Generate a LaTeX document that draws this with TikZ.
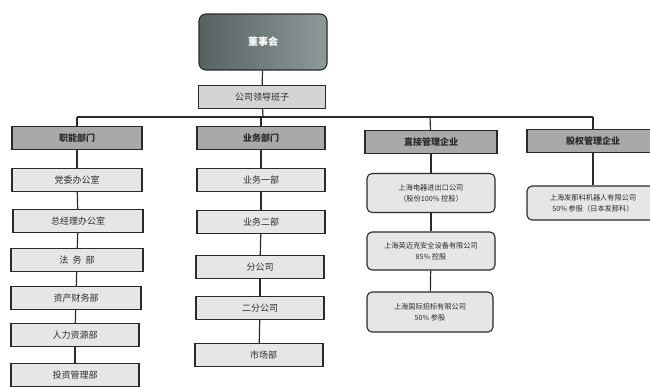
\documentclass[tikz,border=0pt]{standalone}
\usepackage{fontspec}
\newfontfamily\cjk{Noto Sans CJK SC}
\definecolor{hdr}{HTML}{A9A9A9}
\definecolor{kid}{HTML}{E6E6E6}
\definecolor{topA}{HTML}{566262}
\definecolor{topB}{HTML}{8E9A9A}
\definecolor{ln}{HTML}{2A2A2A}
\begin{document}
\begin{tikzpicture}[x=1pt,y=-1pt,
  every node/.style={font=\cjk\fontsize{9}{10}\selectfont, text=ln, inner sep=1pt, align=center},
  hbox/.style={draw=ln, line width=1.1pt, fill=hdr, minimum height=23pt, font=\cjk\bfseries\fontsize{9}{10}\selectfont},
  kbox/.style={draw=ln, line width=1.1pt, fill=kid, minimum height=23pt},
  rbox/.style={draw=ln, line width=1.1pt, fill=kid, rounded corners=5pt, font=\cjk\fontsize{7.2}{11}\selectfont},
  conn/.style={draw=ln, line width=1.2pt}]
\useasboundingbox (0,0) rectangle (650,386);
\fill[white] (0,0) rectangle (650,386);
% top
\node[draw=ln, line width=1.1pt, rounded corners=7pt, left color=topA, right color=topB, minimum width=128pt, minimum height=56pt, text=white, font=\cjk\bfseries\fontsize{10}{11}\selectfont] (dsh) at (263,42) {董事会};
\node[hbox, fill=kid!70!hdr, minimum width=127pt, font=\cjk\fontsize{9}{10}\selectfont] (lead) at (262,97) {公司领导班子};
\coordinate (bus) at (263,117);
\coordinate (b1) at (77,117);
\coordinate (b2) at (261,117);
\coordinate (b3) at (430,117);
\coordinate (b4) at (593,117);
% column 1
\node[hbox, minimum width=130pt] (h1) at (77,138) {职能部门};
\node[kbox, minimum width=130pt] (c11) at (77,180) {党委办公室};
\node[kbox, minimum width=130pt] (c12) at (78,221) {总经理办公室};
\node[kbox, minimum width=132pt] (c13) at (77,260) {法\ \ 务\ \ 部};
\node[kbox, minimum width=130pt] (c14) at (76,298) {资产财务部};
\node[kbox, minimum width=128pt] (c15) at (75,335) {人力资源部};
\node[kbox, minimum width=128pt] (c16) at (75,375) {投资管理部};
% column 2
\node[hbox, minimum width=128pt] (h2) at (261,138) {业务部门};
\node[kbox, minimum width=128pt] (c21) at (261,180) {业务一部};
\node[kbox, minimum width=128pt] (c22) at (261,222) {业务二部};
\node[kbox, minimum width=128pt] (c23) at (260,267) {分公司};
\node[kbox, minimum width=128pt] (c24) at (260,308) {二分公司};
\node[kbox, minimum width=128pt] (c25) at (259,355) {\quad 市场部};
% column 3
\node[hbox, minimum width=132pt] (h3) at (431,142) {直接管理企业};
\node[rbox, minimum width=128pt, minimum height=39pt] (c31) at (431,193) {上海电器进出口公司\\（股份100\%\ 控股）};
\node[rbox, minimum width=128pt, minimum height=38pt] (c32) at (431,251) {上海英迈克安全设备有限公司\\85\%\ 控股};
\node[rbox, minimum width=126pt, minimum height=40pt] (c33) at (430,312) {上海国际招标有限公司\\50\%\ 参股};
% column 4
\node[hbox, minimum width=132pt] (h4) at (593,141) {股权管理企业};
\node[rbox, minimum width=132pt, minimum height=34pt] (c41) at (593,203) {上海发那科机器人有限公司\\50\%\ 参股（日本发那科）};
% connectors
\draw[conn] (dsh) -- (lead);
\draw[conn] (lead) -- (bus);
\draw[conn] (b1) -- (b4);
\draw[conn] (b1) -- (h1);
\draw[conn] (b2) -- (h2);
\draw[conn] (b3) -- (h3);
\draw[conn] (b4) -- (h4);
\draw[conn] (h1.south -| c11) -- (c11);
\draw[conn] (c11) -- (c12);
\draw[conn] (c12) -- (c13);
\draw[conn] (c13) -- (c14);
\draw[conn] (c14) -- (c15);
\draw[conn] (c15) -- (c16);
\draw[conn] (h2) -- (c21);
\draw[conn] (c21) -- (c22);
\draw[conn] (c22) -- (c23);
\draw[conn] (c23) -- (c24);
\draw[conn] (c24) -- (c25);
\draw[conn] (h3) -- (c31);
\draw[conn] (c31) -- (c32);
\draw[conn] (c32) -- (c33);
\draw[conn] (h4) -- (c41);
\end{tikzpicture}
\end{document}
